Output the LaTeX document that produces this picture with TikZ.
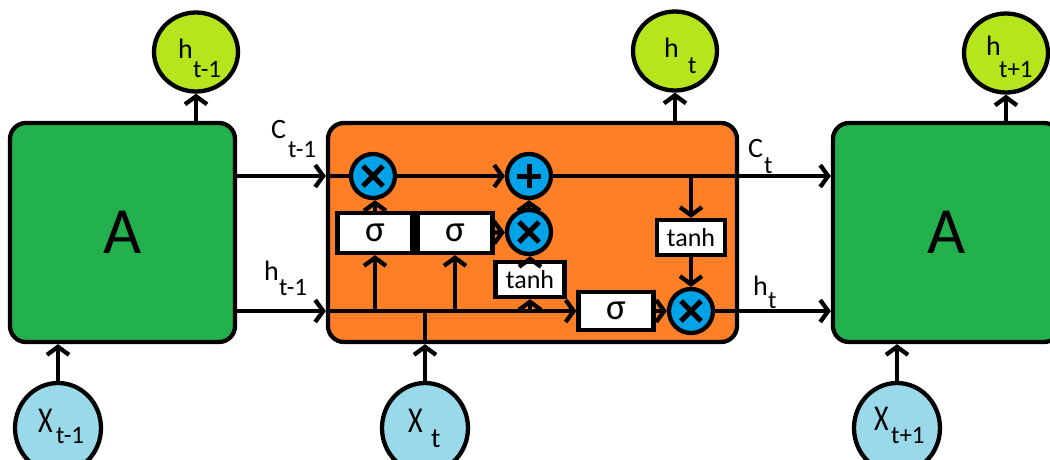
\documentclass[tikz,border=0pt]{standalone}
\usepackage{fontspec}
\setmainfont{Carlito}
\usetikzlibrary{arrows.meta,shapes.geometric}
\definecolor{boxgreen}{RGB}{34,177,76}
\definecolor{cellorange}{RGB}{255,127,39}
\definecolor{hlime}{RGB}{181,230,29}
\definecolor{xblue}{RGB}{153,217,234}
\definecolor{opblue}{RGB}{0,162,232}
\newcommand{\lblfont}{\fontsize{28}{30}\selectfont}
\newcommand{\subfont}{\fontsize{25}{27}\selectfont}
\begin{document}
\begin{tikzpicture}[x=1pt,y=-1pt,line width=4.3pt,
  arr/.style={-{Straight Barb[length=8pt,width=22pt]}},
  abox/.style={draw,fill=boxgreen,rounded corners=16pt,minimum height=219pt,inner sep=0pt,font=\fontsize{66}{70}\selectfont},
  cellbox/.style={draw,fill=cellorange,rounded corners=16pt,minimum width=409pt,minimum height=219pt,inner sep=0pt},
  hcirc/.style={ellipse,draw,fill=hlime,minimum width=84pt,minimum height=79pt,inner sep=0pt},
  xell/.style={ellipse,draw,fill=xblue,minimum width=86pt,minimum height=90pt,inner sep=0pt},
  sbox/.style={draw,fill=white,minimum width=75pt,minimum height=40pt,inner sep=0pt,font=\fontsize{37}{38}\selectfont},
  tbox/.style={draw,fill=white,minimum width=69pt,minimum height=35pt,inner sep=0pt,font=\fontsize{26}{27}\selectfont},
  opx/.style={circle,draw,fill=opblue,minimum size=44pt,inner sep=0pt,
    path picture={\draw[line width=5pt]
      ([shift={(-10pt,-10pt)}]path picture bounding box.center) -- ([shift={(10pt,10pt)}]path picture bounding box.center)
      ([shift={(-10pt,10pt)}]path picture bounding box.center) -- ([shift={(10pt,-10pt)}]path picture bounding box.center);}},
  opp/.style={circle,draw,fill=opblue,minimum size=44pt,inner sep=0pt,
    path picture={\draw[line width=5pt]
      ([shift={(-12pt,0pt)}]path picture bounding box.center) -- ([shift={(12pt,0pt)}]path picture bounding box.center)
      ([shift={(0pt,-12pt)}]path picture bounding box.center) -- ([shift={(0pt,12pt)}]path picture bounding box.center);}},
  lbl/.style={inner sep=0pt,anchor=base west,font=\lblfont},
  sub/.style={inner sep=0pt,anchor=base west,font=\subfont}
]
\useasboundingbox (0,0) rectangle (1050,459);
\clip (0,0) rectangle (1050,459);

% big boxes
\node[abox,minimum width=225pt] (A1) at (122.5,232.5) {A};
\node[cellbox] (cell) at (532.5,232.5) {};
\node[abox,minimum width=227pt] (A2) at (946.5,232.5) {A};

% top outputs
\node[hcirc] (H1) at (196,52) {};
\node[hcirc] (H2) at (675,51) {};
\node[hcirc] (H3) at (1006,53) {};
% bottom inputs
\node[xell] (X1) at (58,428) {};
\node[xell] (X2) at (425,428) {};
\node[xell] (X3) at (897,428) {};

% inner operators
\node[opx] (x1) at (373,176) {};
\node[opp] (p) at (529,176) {};
\node[opx] (x2) at (529,232) {};
\node[sbox] (s1) at (375,233) {σ};
\node[sbox] (s2) at (455,233) {σ};
\node[tbox] (t1) at (530,279.5) {tanh};
\node[sbox,minimum height=38pt] (s3) at (616,311) {σ};
\node[tbox,minimum width=68pt] (t2) at (691,237.5) {tanh};
\node[opx] (x3) at (691,311) {};

\coordinate (cin) at (cell.west |- x1);
\coordinate (hin) at (cell.west |- x3);
\coordinate (br) at (t2 |- p);

% connectors
\draw[arr] (A1.east |- x1) -- (cin);
\draw (cin) -- (x1);
\draw[arr] (x1) -- (p);
\draw[arr] (p) -- (A2.west |- p);
\draw[arr] (br) -- (t2);
\draw[arr] (t2) -- (x3);
\draw[arr] (A1.east |- x3) -- (hin);
\draw[arr] (hin) -- (s3);
\draw[arr] (s1 |- hin) -- (s1);
\draw[arr] (s2 |- hin) -- (s2);
\draw[arr] (t1 |- hin) -- (t1);
\draw[arr] (s1) -- (s1 |- x1.south);
\draw[arr] (s2) -- (x2);
\draw[arr] (t1) -- (t1 |- x2.south);
\draw[arr] (x2) -- (p);
\draw[arr] (s3) -- (x3);
\draw[arr] (x3) -- (A2.west |- x3);
\draw[arr] (A1.north -| H1) -- (H1);
\draw[arr] (cell.north -| H2) -- (H2);
\draw[arr] (A2.north -| H3) -- (H3);
\draw[arr] (X1) -- (X1 |- A1.south);
\draw[arr] (X2) -- (X2 |- cell.south);
\draw (X2 |- cell.south) -- (X2 |- hin);
\draw[arr] (X3) -- (X3 |- A2.south);

% labels
\node[lbl] (lC1) at (269,138) {C};
\node[sub] (lC1s) at (286,157) {t-1};
\node[lbl] (lh1) at (262,280) {h};
\node[sub] (lh1s) at (277,295) {t-1};
\node[lbl] (lC2) at (746,157) {C};
\node[sub] (lC2s) at (762,173) {t};
\node[lbl] (lh2) at (751,295) {h};
\node[sub] (lh2s) at (766,308) {t};

\node[lbl] (cH1) at (176,58) {h};
\node[sub] (cH1s) at (191,77) {t-1};
\node[lbl] (cH2) at (662,57) {h};
\node[sub] (cH2s) at (686,73) {t};
\node[lbl] (cH3) at (984,55) {h};
\node[sub] (cH3s) at (997,77) {t+1};

\node[lbl] (cX1) at (36,432) {\scalebox{1}[1.3]{X}};
\node[sub] (cX1s) at (54,443) {t-1};
\node[lbl] (cX2) at (406,432) {\scalebox{1}[1.3]{X}};
\node[lbl] (cX2s) at (429,447) {t};
\node[lbl] (cX3) at (872,430) {\scalebox{1}[1.3]{X}};
\node[sub] (cX3s) at (889,443) {t+1};
\end{tikzpicture}
\end{document}
